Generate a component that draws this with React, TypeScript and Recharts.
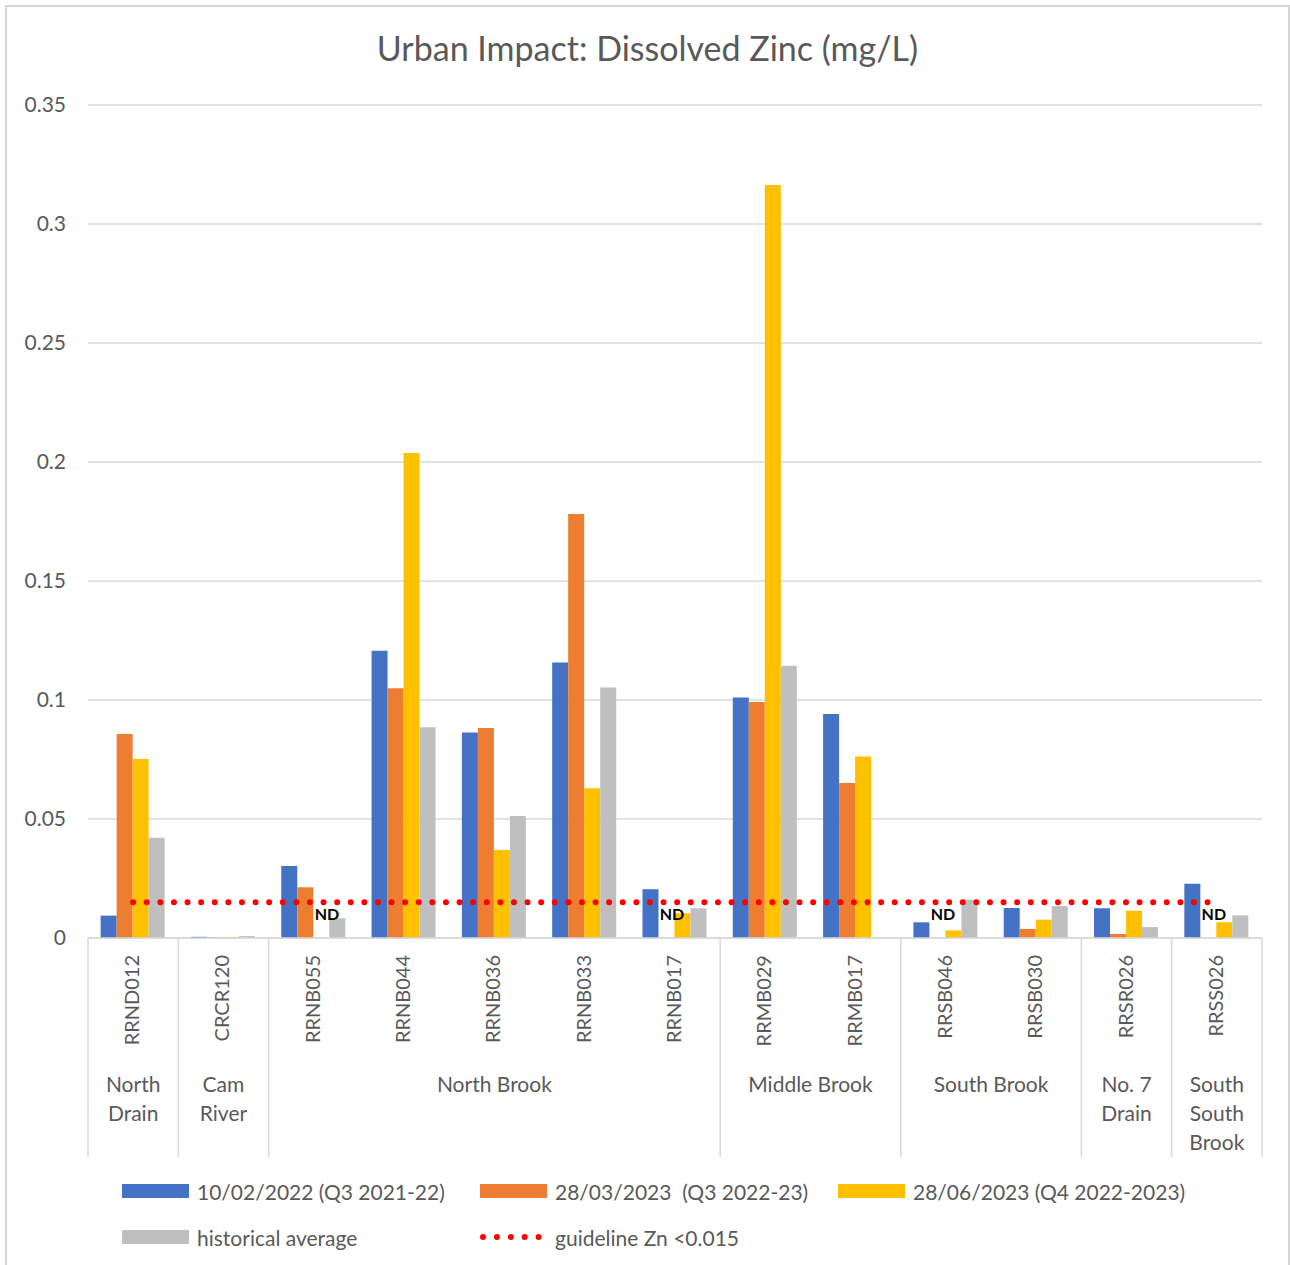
import React from 'react'
import { ComposedChart, Bar, Line, XAxis, YAxis, CartesianGrid, Legend } from 'recharts'

const sites = [
  'RRND012', 'CRCR120', 'RRNB055', 'RRNB044', 'RRNB036', 'RRNB033', 'RRNB017',
  'RRMB029', 'RRMB017', 'RRSB046', 'RRSB030', 'RRSR026', 'RRSS026',
]
const groups = ['North Drain', 'Cam River', 'North Brook', 'Middle Brook', 'South Brook', 'No. 7 Drain', 'South South Brook']
const groupSizes = [1, 1, 5, 2, 2, 1, 1]

const feb2022 = [0.0094, 0.0005, 0.0302, 0.1207, 0.0863, 0.1158, 0.0205, 0.1011, 0.0941, 0.0066, 0.0126, 0.0125, 0.0228]
const mar2023 = [0.0857, 0.0003, 0.0213, 0.1049, 0.0882, 0.1782, null, 0.0992, 0.0651, null, 0.0038, 0.0017, null]
const jun2023 = [0.0752, 0.0003, null, 0.2038, 0.037, 0.0629, 0.0104, 0.3164, 0.0763, 0.0032, 0.0077, 0.0115, 0.0066]
const histAvg = [0.0421, 0.0008, 0.0083, 0.0885, 0.0513, 0.1053, 0.0125, 0.1144, null, 0.0161, 0.0134, 0.0046, 0.0095]
const guideline = 0.015

// "not detected" results, per series
const ndMar2023 = ['RRNB017', 'RRSB046', 'RRSS026']
const ndJun2023 = ['RRNB055']

const yTicks = [0, 0.05, 0.1, 0.15, 0.2, 0.25, 0.3, 0.35]

const series = [
  { key: 'feb2022', name: '10/02/2022 (Q3 2021-22)', color: '#4472C4' },
  { key: 'mar2023', name: '28/03/2023  (Q3 2022-23)', color: '#ED7D31' },
  { key: 'jun2023', name: '28/06/2023 (Q4 2022-2023)', color: '#FFC000' },
  { key: 'histAvg', name: 'historical average', color: '#BFBFBF' },
]

const data = sites.map((site, i) => ({
  site,
  feb2022: feb2022[i],
  mar2023: mar2023[i],
  jun2023: jun2023[i],
  histAvg: histAvg[i],
  guideline,
  ndMar: ndMar2023.includes(site) ? 0 : null,
  ndJun: ndJun2023.includes(site) ? 0 : null,
}))

const FONT = 'Lato, "Open Sans", sans-serif'
const TEXT = '#595959'
const GRID = '#D9D9D9'

const W = 1281
const H = 1258
const margin = { top: 98, right: 26, bottom: 11, left: 21 }
const yWidth = 60
const band = (W - margin.left - margin.right - yWidth) / sites.length
const barW = (band * 0.72) / 4

const groupStart: number[] = []
groupSizes.reduce((acc, n) => {
  groupStart.push(acc)
  return acc + n
}, 0)

function wrap(label: string, maxW: number, charW: number) {
  const words = label.split(' ')
  const lines: string[] = []
  let cur = ''
  words.forEach((w) => {
    const next = cur ? cur + ' ' + w : w
    if (cur && next.length * charW > maxW) {
      lines.push(cur)
      cur = w
    } else cur = next
  })
  if (cur) lines.push(cur)
  return lines
}

function SiteTick(props: any) {
  const { x, y, payload } = props
  const idx = sites.indexOf(payload.value)
  const g = groupStart.indexOf(idx)
  const left = x - band / 2
  let groupEl = null
  if (g >= 0) {
    const size = groupSizes[g]
    const cx = left + (size * band) / 2
    const lines = wrap(groups[g], size * band - 12, 10.2)
    groupEl = (
      <g>
        <line x1={left} x2={left} y1={y} y2={y + 219} stroke={GRID} strokeWidth={1.5} />
        {lines.map((l, k) => (
          <text key={k} x={cx} y={y + 145 + k * 29} textAnchor="middle" dominantBaseline="central"
            fontSize={21} fill={TEXT} fontFamily={FONT}>
            {l}
          </text>
        ))}
      </g>
    )
  }
  return (
    <g>
      {groupEl}
      {idx === sites.length - 1 && (
        <line x1={x + band / 2} x2={x + band / 2} y1={y} y2={y + 219} stroke={GRID} strokeWidth={1.5} />
      )}
      <text x={x - 2} y={y + 17} transform={`rotate(-90, ${x - 2}, ${y + 17})`} textAnchor="end"
        dominantBaseline="central" fontSize={20} fill={TEXT} fontFamily={FONT}>
        {payload.value}
      </text>
    </g>
  )
}

// "ND" marker drawn where the missing bar would sit (shift = bar slot relative to category centre)
const ndDot = (shift: number) => (props: any) => {
  const { cx, cy, value, index } = props
  if (value == null || cx == null) return <g key={index} />
  return (
    <text key={index} x={cx + shift + 1} y={cy - 18} fontSize={16} fontWeight="bold"
      fill="#000" fontFamily={FONT}>
      ND
    </text>
  )
}

function LegendBox() {
  const item = (swatch: React.ReactNode, label: string) => (
    <div key={label} style={{ width: 358, height: 46, display: 'flex', alignItems: 'center' }}>
      {swatch}
      <span style={{ marginLeft: 8, fontSize: 21, color: TEXT, fontFamily: FONT, whiteSpace: 'pre' }}>{label}</span>
    </div>
  )
  return (
    <div style={{ display: 'flex', flexWrap: 'wrap', width: 1100 }}>
      {series.map((s) =>
        item(<div style={{ width: 67, height: 14, background: s.color }} />, s.name)
      )}
      {item(
        <svg width={67} height={14}>
          <line x1={3} x2={64} y1={7} y2={7} stroke="#FF0000" strokeWidth={6}
            strokeDasharray="0 13.9" strokeLinecap="round" />
        </svg>,
        'guideline Zn <0.015'
      )}
    </div>
  )
}

export default function App() {
  return (
    <div style={{ position: 'absolute', left: 5, top: 5, width: W, height: H + 20, boxSizing: 'content-box',
      borderTop: '2px solid #D6D6D6', borderLeft: '2px solid #D6D6D6', borderRight: '2px solid #D6D6D6', background: '#fff' }}>
      <div style={{ position: 'absolute', top: 21, left: 0, width: '100%', textAlign: 'center', fontSize: 34, lineHeight: '40px', color: TEXT, fontFamily: FONT }}>
        Urban Impact: Dissolved Zinc (mg/L)
      </div>
      <ComposedChart width={W} height={H} data={data} margin={margin} barGap={0} barCategoryGap="14%">
        <CartesianGrid vertical={false} stroke={GRID} strokeWidth={1.5} />
        <XAxis dataKey="site" interval={0} height={230} tickLine={false} tickSize={0} tickMargin={0}
          axisLine={{ stroke: GRID, strokeWidth: 1.5 }} tick={<SiteTick />} />
        <YAxis domain={[0, 0.35]} ticks={yTicks} width={yWidth} axisLine={false} tickLine={false}
          tickSize={0} tickMargin={22} tick={{ fontSize: 21, fill: TEXT, fontFamily: FONT }} />
        {series.map((s) => (
          <Bar key={s.key} dataKey={s.key} name={s.name} fill={s.color} isAnimationActive={false} />
        ))}
        <Line dataKey="guideline" name="guideline Zn <0.015" stroke="#FF0000" strokeWidth={6}
          strokeDasharray="0 13.6" strokeLinecap="round" dot={false} activeDot={false}
          isAnimationActive={false} />
        <Line dataKey="ndMar" stroke="none" legendType="none" dot={ndDot(-barW)} activeDot={false}
          isAnimationActive={false} />
        <Line dataKey="ndJun" stroke="none" legendType="none" dot={ndDot(0)} activeDot={false}
          isAnimationActive={false} />
        <Legend verticalAlign="bottom" height={86} content={<LegendBox />}
          wrapperStyle={{ left: 115, width: 1100 }} />
      </ComposedChart>
    </div>
  )
}
